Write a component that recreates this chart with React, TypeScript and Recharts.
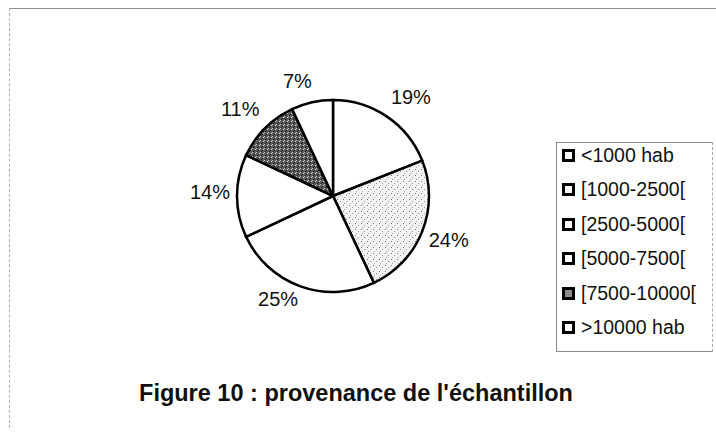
import React from "react";
import { PieChart, Pie, Cell, Legend } from "recharts";

const categories = ["<1000 hab", "[1000-2500[", "[2500-5000[", "[5000-7500[", "[7500-10000[", ">10000 hab"];
const percents = [19, 24, 25, 14, 11, 7];
const fills = ["#ffffff", "url(#lightDots)", "#ffffff", "#ffffff", "url(#darkDots)", "#ffffff"];
const legendFills = ["#ffffff", "#f7f7f7", "#ffffff", "#ffffff", "#8a8a8a", "#ffffff"];
const title = "Figure 10 : provenance de l'échantillon";

const data = categories.map((name, i) => ({ name, value: percents[i] }));

const FONT = "'Liberation Sans', Arial, sans-serif";
const RAD = Math.PI / 180;

const renderLabel = (props: any) => {
  const { cx, cy, outerRadius, midAngle, value } = props;
  const r = outerRadius + 7;
  const dx = Math.cos(-midAngle * RAD);
  const dy = Math.sin(-midAngle * RAD);
  const ax = cx + r * dx;
  const ay = cy + r * dy;
  const w = 40;
  const h = 20;
  const clamp = (v: number) => Math.max(-1, Math.min(1, v));
  const x = ax + (w / 2) * clamp(dx * 3);
  const y = ay + (h / 2) * clamp(dy * 3) - 4;
  return (
    <text x={x} y={y} textAnchor="middle" dominantBaseline="central" fontFamily={FONT} fontSize={20} fill="#111">
      {`${value}%`}
    </text>
  );
};

const LegendContent = () => (
  <div
    style={{
      width: 157,
      height: 210,
      border: "1px solid #8a8a8a",
      borderRight: "1px dashed #aaa",
      boxSizing: "border-box",
      background: "#fff",
      overflow: "visible",
    }}
  >
    <div style={{ marginTop: -5 }}>
      {categories.map((c, i) => (
        <div key={c} style={{ display: "flex", alignItems: "center", height: 34.5, paddingLeft: 5 }}>
          <span
            style={{
              display: "inline-block",
              width: 13,
              height: 13,
              boxSizing: "border-box",
              border: "3px solid #000",
              background: legendFills[i],
              marginRight: 6,
              flex: "none",
            }}
          />
          <span style={{ fontFamily: FONT, fontSize: 19.5, color: "#111", whiteSpace: "nowrap" }}>{c}</span>
        </div>
      ))}
    </div>
  </div>
);

export default function App() {
  return (
    <div style={{ position: "absolute", left: 0, top: 0, width: 716, height: 438, background: "#fff", overflow: "hidden" }}>
      <div style={{ position: "absolute", left: 10, top: 8, width: 706, height: 0, borderTop: "1px solid #8c8c8c" }} />
      <div style={{ position: "absolute", left: 9, top: 8, width: 0, height: 420, borderLeft: "1px dashed #b0b0b0" }} />
      <PieChart width={716} height={438}>
        <defs>
          <pattern id="lightDots" width="6" height="6" patternUnits="userSpaceOnUse">
            <rect width="6" height="6" fill="#f2f2f2" />
            <rect x="1" y="1" width="1" height="1" fill="#777" />
            <rect x="4" y="3" width="1" height="1" fill="#999" />
            <rect x="2" y="5" width="1" height="1" fill="#aaa" />
          </pattern>
          <pattern id="darkDots" width="4" height="4" patternUnits="userSpaceOnUse">
            <rect width="4" height="4" fill="#5a5a5a" />
            <rect x="0" y="0" width="1" height="1" fill="#bbb" />
            <rect x="2" y="2" width="1" height="1" fill="#222" />
            <rect x="3" y="1" width="1" height="1" fill="#ddd" />
            <rect x="1" y="3" width="1" height="1" fill="#111" />
          </pattern>
        </defs>
        <Pie
          data={data}
          dataKey="value"
          nameKey="name"
          cx={328}
          cy={191}
          outerRadius={96}
          startAngle={90}
          endAngle={-270}
          stroke="#000"
          strokeWidth={2.5}
          label={renderLabel}
          labelLine={false}
          isAnimationActive={false}
        >
          {data.map((d, i) => (
            <Cell key={d.name} fill={fills[i]} stroke="#000" strokeWidth={2.5} />
          ))}
        </Pie>
        <Legend
          content={<LegendContent />}
          wrapperStyle={{ position: "absolute", left: 556, top: 142, width: 157, height: 210 }}
        />
      </PieChart>
      <div
        style={{
          position: "absolute",
          left: 0,
          width: 712,
          top: 379,
          textAlign: "center",
          fontFamily: FONT,
          fontWeight: "bold",
          fontSize: 23.5,
          lineHeight: "28px",
          color: "#111",
        }}
      >
        {title}
      </div>
    </div>
  );
}
